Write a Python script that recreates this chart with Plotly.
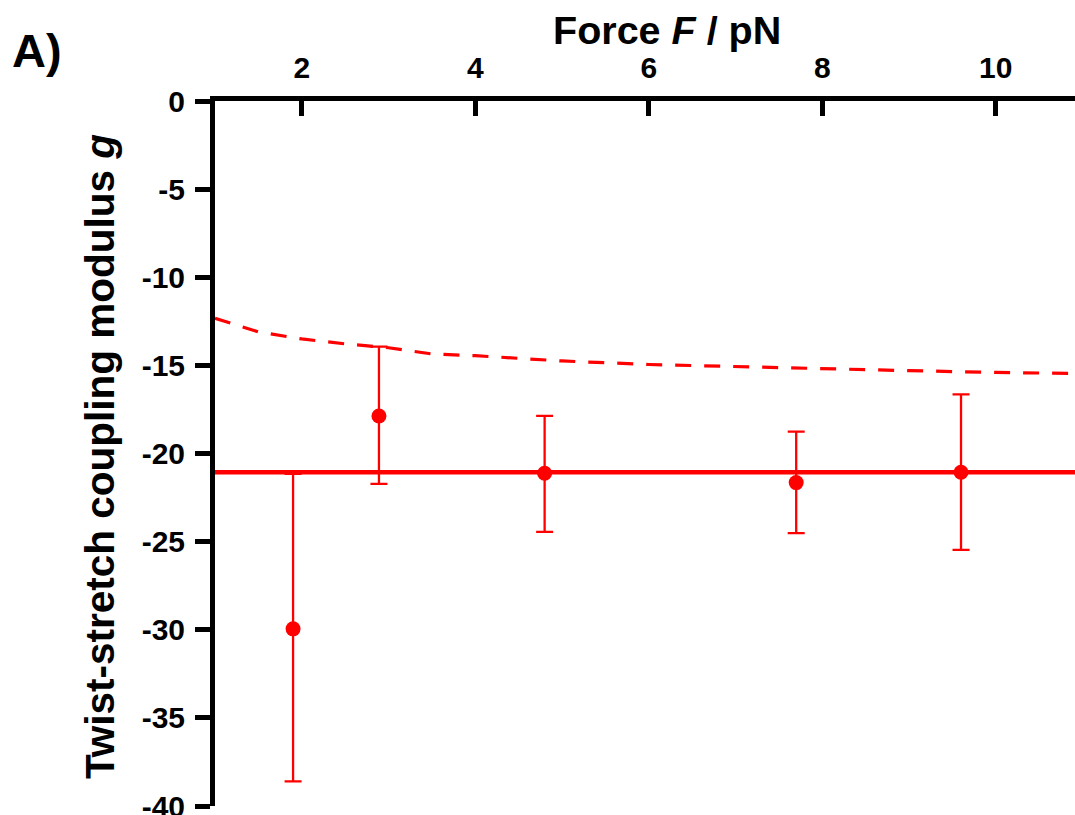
import plotly.graph_objects as go

# ---- data ----
force = [1.90, 2.89, 4.80, 7.70, 9.60]
g_mean = [-29.95, -17.87, -21.12, -21.65, -21.06]
g_upper = [-21.16, -13.94, -17.87, -18.76, -16.64]
g_lower = [-38.60, -21.72, -24.45, -24.52, -25.47]

# constant fit (solid line)
const_fit_force = [1.0, 10.92]
const_fit_g = [-21.06, -21.06]

# model curve (dashed line)
model_force = [1.0, 1.5, 2.0, 2.5, 3.0, 3.5, 4.0, 5.0, 6.0, 7.0, 8.0, 9.0, 10.0, 10.92]
model_g = [-12.33, -13.10, -13.50, -13.78, -14.00, -14.35, -14.45, -14.75, -14.95, -15.08, -15.20, -15.30, -15.40, -15.46]

x_ticks = [2, 4, 6, 8, 10]
x_ticktext = ["2", "4", "6", "8", "10"]
y_ticks = [0, -5, -10, -15, -20, -25, -30, -35, -40]
y_ticktext = ["0", "-5", "-10", "-15", "-20", "-25", "-30", "-35", "-40"]

RED = "#FF0000"
FONT = "Liberation Sans, Arial, sans-serif"

err_plus = [u - m for u, m in zip(g_upper, g_mean)]
err_minus = [m - l for m, l in zip(g_mean, g_lower)]

fig = go.Figure()
fig.add_trace(go.Scatter(x=model_force, y=model_g, mode="lines",
                         line=dict(color=RED, width=3.2, dash="16px,13px"),
                         hoverinfo="skip", showlegend=False))
fig.add_trace(go.Scatter(x=const_fit_force, y=const_fit_g, mode="lines",
                         line=dict(color=RED, width=4.5),
                         hoverinfo="skip", showlegend=False))
fig.add_trace(go.Scatter(x=force, y=g_mean, mode="markers",
                         marker=dict(color=RED, size=15),
                         error_y=dict(type="data", symmetric=False,
                                      array=err_plus, arrayminus=err_minus,
                                      color=RED, thickness=2.3, width=8.5),
                         showlegend=False))

fig.update_layout(
    width=1075, height=815,
    margin=dict(l=215, r=0, t=101, b=9),
    paper_bgcolor="white", plot_bgcolor="white",
    font=dict(family=FONT, color="black"),
    xaxis=dict(range=[1, 10.914], side="top", showgrid=False, zeroline=False,
               showline=True, linecolor="black", linewidth=5,
               ticks="inside", ticklen=15, tickwidth=5, tickcolor="black",
               tickvals=x_ticks, ticktext=x_ticktext,
               tickfont=dict(size=30, family=FONT, weight="bold"),
               ticklabelstandoff=6, automargin=False),
    yaxis=dict(range=[-40, 0], showgrid=False, zeroline=False,
               showline=True, linecolor="black", linewidth=5,
               ticks="outside", ticklen=15, tickwidth=5, tickcolor="black",
               tickvals=y_ticks, ticktext=y_ticktext,
               tickfont=dict(size=30, family=FONT, weight="bold"),
               ticklabelstandoff=4, ticklabeloverflow="allow", automargin=False),
    annotations=[
        dict(text="A)", xref="paper", yref="paper", x=-215/860, y=1 + 51/705,
             xanchor="left", yanchor="middle", showarrow=False,
             xshift=10, font=dict(size=47, family=FONT, weight="bold")),
        dict(text="Force <i>F</i> / pN", xref="paper", yref="paper",
             x=(667 - 215) / 860, y=1 + 71/705, xanchor="center", yanchor="middle",
             showarrow=False, font=dict(size=39.5, family=FONT, weight="bold")),
        dict(text="Twist-stretch coupling modulus <i>g</i>", xref="paper", yref="paper",
             x=-(215 - 100) / 860, y=(806 - 457) / 705, xanchor="center", yanchor="middle",
             textangle=-90, showarrow=False,
             font=dict(size=40.5, family=FONT, weight="bold")),
    ],
)

fig.write_html("out.html", config={"displayModeBar": False},
               post_script="document.body.style.margin='0';document.body.style.overflow='hidden';")
